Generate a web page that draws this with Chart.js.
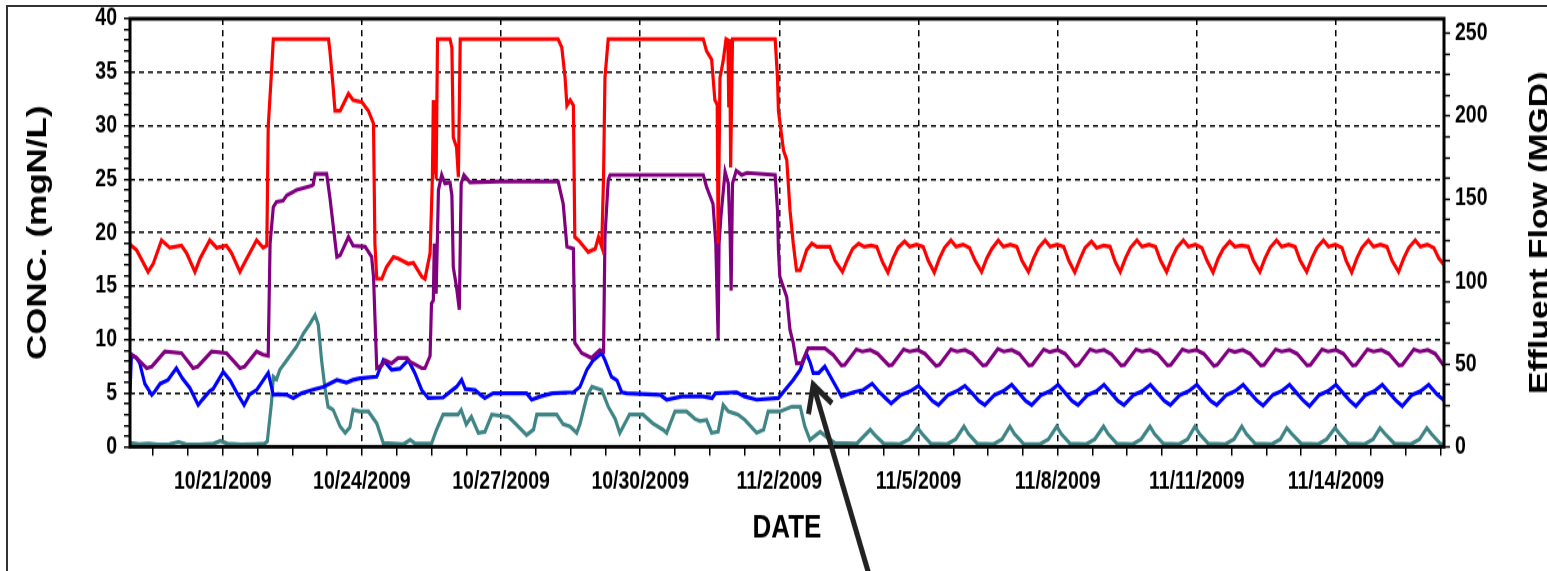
<!DOCTYPE html>
<html>
<head>
<meta charset="utf-8">
<script src="https://cdn.jsdelivr.net/npm/chart.js@4.4.1/dist/chart.umd.min.js"></script>
<style>
  html, body { margin: 0; padding: 0; background: #fff; overflow: hidden; width: 1547px; height: 571px; }
  #frame { position: absolute; left: 6px; top: 5px; width: 1600px; height: 600px; border-left: 2px solid #333; border-top: 2px solid #333; }
  /* the source picture is stretched vertically, so draw at 1/1.25 height and scale up */
  #wrap { position: absolute; left: 0; top: 0; transform: scaleY(1.25); transform-origin: 0 0; }
</style>
</head>
<body>
<div id="frame"></div>
<div id="wrap"><canvas id="chart" width="1580" height="457"></canvas></div>
<script>
// x = days since 10/19/2009 00:00, y = mgN/L on the left axis
const red = [
  [0, 18.9], [0.14, 18.4], [0.39, 16.35], [0.50, 17.1], [0.68, 19.3], [0.86, 18.6], [1.11, 18.8], [1.22, 18.1],
  [1.40, 16.35], [1.51, 17.6], [1.72, 19.3], [1.87, 18.6], [2.08, 18.8], [2.19, 18.1], [2.37, 16.35], [2.52, 17.6],
  [2.73, 19.3], [2.87, 18.6], [2.95, 18.8], [2.98, 29.9], [3.05, 35.0], [3.09, 38.1], [4.28, 38.1], [4.31, 37.0],
  [4.38, 33.6], [4.42, 31.4], [4.53, 31.4], [4.71, 33.0], [4.81, 32.4], [5.00, 32.2], [5.14, 31.4], [5.25, 30.2],
  [5.28, 19.0], [5.32, 15.7], [5.43, 15.7], [5.53, 16.8], [5.68, 17.75], [5.78, 17.6], [6.00, 17.1], [6.11, 17.2],
  [6.29, 15.9], [6.36, 15.7], [6.47, 18.1], [6.52, 25.2], [6.54, 32.4], [6.56, 25.5], [6.58, 32.4], [6.60, 25.0],
  [6.63, 38.1], [6.90, 38.1], [6.94, 37.3], [6.97, 28.9], [7.04, 28.0], [7.08, 25.2], [7.12, 38.1], [9.23, 38.1],
  [9.31, 37.3], [9.38, 34.5], [9.42, 31.9], [9.49, 32.4], [9.56, 31.9], [9.59, 19.6], [9.67, 19.3], [9.88, 18.2],
  [10.03, 18.5], [10.10, 19.6], [10.17, 18.7], [10.21, 25.2], [10.24, 34.5], [10.31, 38.1], [12.36, 38.1], [12.43, 37.0],
  [12.54, 36.2], [12.61, 32.4], [12.66, 32.0], [12.68, 19.0], [12.72, 34.5], [12.79, 36.1], [12.85, 38.1], [12.89, 38.0],
  [12.91, 31.7], [12.93, 38.1], [12.95, 26.1], [12.99, 38.1], [13.91, 38.1], [13.96, 34.5], [13.98, 31.4], [14.09, 27.7],
  [14.16, 26.8], [14.23, 22.1], [14.30, 19.0], [14.37, 16.5], [14.45, 16.5], [14.59, 18.4], [14.70, 19.0], [14.81, 18.7],
  [15.09, 18.7], [15.20, 17.4],
  [15.36, 16.35], [15.47, 17.5], [15.58, 18.5], [15.71, 19.0], [15.83, 18.7], [15.98, 18.8], [16.10, 18.7], [16.22, 17.3],
  [16.34, 16.3], [16.45, 17.6], [16.56, 18.6], [16.70, 19.2], [16.81, 18.7], [16.96, 18.9], [17.10, 18.7], [17.21, 17.4],
  [17.34, 16.3], [17.45, 17.6], [17.56, 18.6], [17.70, 19.3], [17.81, 18.7], [17.96, 18.9], [18.10, 18.6], [18.22, 17.4],
  [18.36, 16.35], [18.47, 17.6], [18.58, 18.5], [18.72, 19.3], [18.83, 18.7], [18.98, 18.9], [19.12, 18.7], [19.23, 17.4],
  [19.37, 16.35], [19.48, 17.6], [19.59, 18.6], [19.73, 19.3], [19.84, 18.7], [19.99, 18.9], [20.13, 18.7], [20.24, 17.4],
  [20.37, 16.3], [20.48, 17.5], [20.59, 18.6], [20.73, 19.2], [20.84, 18.6], [20.99, 18.8], [21.13, 18.7], [21.24, 17.3],
  [21.35, 16.35], [21.46, 17.6], [21.57, 18.6], [21.71, 19.3], [21.82, 18.7], [21.97, 18.9], [22.11, 18.7], [22.22, 17.4],
  [22.35, 16.35], [22.46, 17.6], [22.57, 18.6], [22.71, 19.3], [22.82, 18.7], [22.97, 18.9], [23.11, 18.6], [23.22, 17.4],
  [23.35, 16.3], [23.46, 17.6], [23.57, 18.5], [23.71, 19.2], [23.82, 18.7], [23.97, 18.8], [24.11, 18.7], [24.22, 17.4],
  [24.36, 16.35], [24.47, 17.6], [24.58, 18.6], [24.72, 19.3], [24.83, 18.7], [24.98, 18.9], [25.12, 18.7], [25.23, 17.4],
  [25.37, 16.35], [25.48, 17.6], [25.59, 18.6], [25.73, 19.3], [25.84, 18.7], [25.99, 18.9], [26.13, 18.6], [26.22, 17.4],
  [26.34, 16.3], [26.45, 17.6], [26.56, 18.6], [26.70, 19.3], [26.81, 18.7], [26.96, 18.9], [27.10, 18.7], [27.21, 17.4],
  [27.35, 16.35], [27.46, 17.6], [27.57, 18.6], [27.71, 19.3], [27.82, 18.7], [27.97, 18.9], [28.11, 18.6], [28.22, 17.6],
  [28.33, 17.0]
];

const purple = [
  [0, 8.6], [0.04, 8.6], [0.14, 8.3], [0.36, 7.35], [0.47, 7.5], [0.75, 8.9], [1.11, 8.75], [1.36, 7.35],
  [1.46, 7.5], [1.76, 8.9], [2.08, 8.75], [2.37, 7.35], [2.47, 7.5], [2.73, 8.9], [2.87, 8.6], [2.98, 8.5],
  [3.02, 19.0], [3.09, 22.4], [3.16, 22.9], [3.30, 23.0], [3.38, 23.5], [3.59, 24.0], [3.92, 24.4], [3.95, 24.5],
  [3.99, 25.5], [4.24, 25.5], [4.31, 23.3], [4.46, 17.75], [4.53, 17.9], [4.71, 19.6], [4.81, 18.8], [5.07, 18.7],
  [5.21, 17.75], [5.25, 15.9], [5.32, 7.35], [5.43, 7.6], [5.50, 8.1], [5.64, 7.8], [5.78, 8.3], [5.97, 8.3],
  [6.04, 7.95], [6.29, 7.35], [6.36, 7.35], [6.47, 8.5], [6.50, 13.4], [6.54, 13.7], [6.56, 19.0], [6.60, 14.3],
  [6.63, 20.0], [6.65, 24.0], [6.72, 25.4], [6.79, 24.6], [6.90, 24.7], [6.94, 23.5], [6.97, 16.8], [7.04, 14.9],
  [7.10, 12.8], [7.14, 24.6], [7.20, 25.4], [7.33, 24.7], [7.98, 24.8], [9.23, 24.8], [9.34, 22.7], [9.42, 18.7],
  [9.56, 18.5], [9.59, 9.7], [9.74, 8.75], [9.95, 8.3], [10.13, 9.05], [10.21, 8.9], [10.24, 19.6], [10.31, 24.9],
  [10.35, 25.4], [12.36, 25.4], [12.43, 24.3], [12.57, 22.7], [12.63, 19.0], [12.68, 10.1], [12.70, 19.0], [12.74, 21.5],
  [12.83, 25.7], [12.90, 24.6], [12.94, 19.6], [12.96, 14.6], [12.99, 24.6], [13.07, 25.8], [13.19, 25.4], [13.30, 25.6],
  [13.91, 25.4], [13.96, 22.1], [13.98, 18.5], [14.01, 15.9], [14.16, 14.0], [14.23, 10.9], [14.30, 9.7], [14.37, 7.8],
  [14.48, 7.8], [14.62, 9.2], [14.98, 9.2], [15.16, 8.6],
  [15.34, 7.6], [15.41, 7.65], [15.66, 9.1], [15.79, 8.9], [15.96, 9.05], [16.12, 8.7],
  [16.36, 7.6], [16.43, 7.65], [16.68, 9.1], [16.81, 8.9], [16.98, 9.05], [17.14, 8.7],
  [17.38, 7.55], [17.45, 7.65], [17.70, 9.1], [17.83, 8.9], [18.00, 9.05], [18.16, 8.7],
  [18.39, 7.6], [18.46, 7.65], [18.71, 9.15], [18.84, 8.9], [19.01, 9.05], [19.17, 8.7],
  [19.38, 7.6], [19.45, 7.65], [19.70, 9.1], [19.83, 8.85], [20.00, 9.05], [20.16, 8.7],
  [20.38, 7.55], [20.45, 7.65], [20.70, 9.1], [20.83, 8.9], [21.00, 9.05], [21.16, 8.65],
  [21.37, 7.6], [21.44, 7.65], [21.69, 9.1], [21.82, 8.9], [21.99, 9.05], [22.15, 8.7],
  [22.37, 7.6], [22.44, 7.65], [22.69, 9.1], [22.82, 8.9], [22.99, 9.05], [23.15, 8.7],
  [23.37, 7.55], [23.44, 7.65], [23.69, 9.05], [23.82, 8.85], [23.99, 9.05], [24.15, 8.7],
  [24.38, 7.6], [24.45, 7.65], [24.70, 9.1], [24.83, 8.9], [25.00, 9.05], [25.16, 8.7],
  [25.38, 7.6], [25.45, 7.65], [25.70, 9.1], [25.83, 8.9], [26.00, 9.05], [26.16, 8.7],
  [26.36, 7.6], [26.43, 7.65], [26.68, 9.1], [26.81, 8.9], [26.98, 9.05], [27.14, 8.7],
  [27.36, 7.6], [27.43, 7.65], [27.68, 9.1], [27.81, 8.9], [27.98, 9.05], [28.14, 8.7],
  [28.33, 7.55]
];

const blue = [
  [0, 5.0], [0.03, 8.6], [0.14, 8.3], [0.21, 7.8], [0.32, 5.9], [0.47, 4.85], [0.54, 5.2], [0.65, 5.9],
  [0.82, 6.25], [1.00, 7.35], [1.13, 6.4], [1.29, 5.5], [1.47, 3.9], [1.56, 4.4], [1.72, 5.2], [1.79, 5.4],
  [2.01, 7.0], [2.16, 6.2], [2.31, 5.0], [2.46, 3.9], [2.58, 4.9], [2.73, 5.3], [2.98, 6.9], [3.09, 4.85],
  [3.19, 4.9], [3.38, 4.85], [3.52, 4.55], [3.70, 5.0], [3.92, 5.3], [4.17, 5.6], [4.46, 6.25], [4.67, 6.0],
  [4.81, 6.25], [4.96, 6.4], [5.32, 6.55], [5.46, 8.1], [5.64, 7.2], [5.82, 7.3], [6.00, 8.1], [6.14, 6.9],
  [6.29, 5.3], [6.43, 4.55], [6.75, 4.6], [6.86, 5.0], [7.04, 5.6], [7.15, 6.25], [7.23, 5.4], [7.44, 5.3],
  [7.56, 4.85], [7.65, 4.55], [7.83, 5.0], [8.55, 5.0], [8.66, 4.4], [8.85, 4.7], [9.10, 5.0], [9.56, 5.1],
  [9.70, 5.6], [9.85, 7.2], [9.99, 8.1], [10.17, 8.75], [10.24, 8.1], [10.38, 6.55], [10.50, 6.2], [10.60, 5.1],
  [10.71, 5.0], [11.43, 4.85], [11.57, 4.4], [11.90, 4.7], [12.35, 4.7], [12.55, 4.55], [12.62, 5.0], [13.08, 5.1],
  [13.25, 4.7], [13.51, 4.4], [13.98, 4.55], [14.30, 6.25], [14.45, 7.2], [14.58, 8.75], [14.67, 7.8], [14.73, 6.9],
  [14.85, 6.9], [14.98, 7.5], [15.16, 6.1], [15.34, 4.7], [15.60, 5.1], [15.80, 5.3],
  [16.00, 5.9], [16.18, 5.0], [16.30, 4.5], [16.41, 4.05], [16.62, 4.85], [16.83, 5.2],
  [17.00, 5.7], [17.18, 4.9], [17.30, 4.3], [17.43, 3.9], [17.64, 4.85], [17.83, 5.2],
  [18.00, 5.7], [18.18, 4.9], [18.30, 4.3], [18.43, 3.9], [18.64, 4.85], [18.83, 5.2],
  [19.01, 5.8], [19.19, 4.9], [19.31, 4.3], [19.44, 3.9], [19.65, 4.85], [19.84, 5.2],
  [20.01, 5.8], [20.19, 4.9], [20.31, 4.3], [20.44, 3.9], [20.65, 4.85], [20.84, 5.2],
  [21.00, 5.8], [21.18, 4.9], [21.30, 4.3], [21.43, 3.9], [21.64, 4.85], [21.83, 5.2],
  [22.00, 5.8], [22.18, 4.9], [22.30, 4.3], [22.43, 3.9], [22.64, 4.85], [22.83, 5.2],
  [23.00, 5.8], [23.18, 4.9], [23.30, 4.3], [23.43, 3.9], [23.64, 4.85], [23.83, 5.2],
  [24.00, 5.8], [24.18, 4.9], [24.30, 4.3], [24.43, 3.85], [24.64, 4.85], [24.83, 5.2],
  [25.00, 5.8], [25.18, 4.9], [25.30, 4.3], [25.43, 3.8], [25.64, 4.85], [25.83, 5.2],
  [26.00, 5.8], [26.18, 4.9], [26.30, 4.3], [26.43, 3.8], [26.64, 4.85], [26.83, 5.2],
  [27.00, 5.8], [27.18, 4.9], [27.30, 4.3], [27.43, 3.8], [27.64, 4.85], [27.83, 5.2],
  [28.00, 5.8], [28.18, 4.9], [28.33, 4.35]
];

const teal = [
  [0, 0.35], [0.2, 0.25], [0.4, 0.3], [0.6, 0.2], [0.85, 0.25], [1.05, 0.45], [1.2, 0.25], [1.5, 0.2],
  [1.8, 0.3], [1.95, 0.55], [2.1, 0.3], [2.4, 0.2], [2.7, 0.25], [2.9, 0.3], [2.96, 0.5], [3.05, 4.1],
  [3.09, 6.55], [3.16, 6.3], [3.23, 7.2], [3.38, 8.1], [3.59, 9.35], [3.74, 10.6], [3.88, 11.5], [3.99, 12.3],
  [4.06, 11.4], [4.13, 8.1], [4.20, 5.6], [4.27, 3.75], [4.38, 3.45], [4.53, 1.9], [4.64, 1.3], [4.74, 1.8],
  [4.81, 3.45], [4.95, 3.3], [5.14, 3.3], [5.32, 2.2], [5.46, 0.35], [5.9, 0.25], [6.04, 0.65], [6.15, 0.3],
  [6.50, 0.3], [6.61, 1.6], [6.75, 3.0], [7.07, 3.0], [7.14, 3.45], [7.25, 2.1], [7.36, 2.8], [7.51, 1.3],
  [7.65, 1.4], [7.80, 3.0], [8.16, 2.8], [8.30, 2.2], [8.55, 1.1], [8.70, 1.6], [8.77, 3.0], [9.20, 3.0],
  [9.34, 2.1], [9.49, 1.9], [9.63, 1.3], [9.70, 2.1], [9.85, 4.7], [9.96, 5.6], [10.17, 5.3], [10.31, 3.75],
  [10.46, 2.6], [10.56, 1.3], [10.77, 3.0], [11.06, 3.0], [11.27, 2.2], [11.49, 1.6], [11.57, 1.3], [11.75, 3.3],
  [12.00, 3.3], [12.18, 2.6], [12.29, 2.4], [12.43, 2.5], [12.54, 1.3], [12.68, 1.4], [12.79, 3.9], [12.90, 3.3],
  [13.11, 3.0], [13.26, 2.5], [13.51, 1.3], [13.66, 1.6], [13.76, 3.3], [14.01, 3.3], [14.27, 3.75], [14.45, 3.75],
  [14.55, 1.9], [14.66, 0.65], [14.88, 1.4], [15.02, 0.9], [15.20, 0.35], [15.67, 0.3],
  [15.96, 1.6], [16.08, 1.0], [16.25, 0.3], [16.60, 0.25], [16.80, 0.7],
  [16.98, 1.75], [17.08, 1.2], [17.27, 0.3], [17.62, 0.25], [17.80, 0.7],
  [17.98, 1.9], [18.08, 1.2], [18.27, 0.3], [18.62, 0.25], [18.80, 0.7],
  [18.97, 1.9], [19.07, 1.2], [19.27, 0.25], [19.62, 0.25], [19.80, 0.7],
  [19.98, 1.9], [20.08, 1.2], [20.27, 0.3], [20.62, 0.25], [20.80, 0.7],
  [20.99, 1.9], [21.09, 1.2], [21.28, 0.3], [21.62, 0.25], [21.80, 0.7],
  [21.99, 1.9], [22.09, 1.2], [22.28, 0.3], [22.62, 0.25], [22.80, 0.7],
  [22.96, 1.9], [23.06, 1.2], [23.25, 0.3], [23.62, 0.25], [23.80, 0.7],
  [23.97, 1.9], [24.07, 1.2], [24.26, 0.3], [24.62, 0.25], [24.80, 0.7],
  [24.94, 1.75], [25.05, 1.2], [25.25, 0.3], [25.62, 0.25], [25.80, 0.7],
  [25.98, 1.75], [26.08, 1.2], [26.27, 0.3], [26.62, 0.25], [26.80, 0.7],
  [26.95, 1.75], [27.06, 1.2], [27.26, 0.3], [27.62, 0.25], [27.80, 0.7],
  [27.96, 1.75], [28.06, 1.2], [28.25, 0.3], [28.33, 0.2]
];

// tick labels
const labelDays = [2, 5, 8, 11, 14, 17, 20, 23, 26];
const dateLabels = ['10/21/2009', '10/24/2009', '10/27/2009', '10/30/2009', '11/2/2009',
  '11/5/2009', '11/8/2009', '11/11/2009', '11/14/2009'];
const flowLabels = [0, 50, 100, 150, 200, 250];

// arrow annotation, in data units (days, mgN/L)
const arrowTip = [14.73, 5.8];
const arrowTail = [15.95, -12.2];

const FONT = "'Liberation Sans', Arial, sans-serif";
const X_MAX = 28.33;
const FLOW_MAX = 259;

function series(label, pts, color) {
  return {
    label: label,
    data: pts.map(p => ({ x: p[0], y: p[1] })),
    borderColor: color,
    backgroundColor: color,
    borderWidth: 3.2,
    pointRadius: 0,
    tension: 0,
    fill: false,
    yAxisID: 'y'
  };
}

const tickFont = { family: FONT, size: 19.5, weight: 'bold' };

// thick box round the plot area
const framePlugin = {
  id: 'frame',
  afterDatasetsDraw(chart) {
    const { ctx, chartArea: a } = chart;
    ctx.save();
    ctx.strokeStyle = '#000';
    ctx.lineWidth = 3;
    ctx.strokeRect(a.left, a.top, a.right - a.left, a.bottom - a.top);
    ctx.restore();
  }
};

// right axis title reads bottom to top, which chart.js won't do on a right axis
const flowTitle = {
  id: 'flowTitle',
  afterDraw(chart) {
    const { ctx, chartArea: a } = chart;
    ctx.save();
    ctx.translate(a.right + 97, (a.top + a.bottom) / 2);
    ctx.rotate(-Math.PI / 2);
    ctx.font = 'bold 27px ' + FONT;
    ctx.fillStyle = '#000';
    ctx.textAlign = 'center';
    ctx.textBaseline = 'middle';
    ctx.fillText('Effluent Flow (MGD)', 0, 0);
    ctx.restore();
  }
};

const arrowPlugin = {
  id: 'arrow',
  afterDraw(chart) {
    const { ctx, scales } = chart;
    const tx = scales.x.getPixelForValue(arrowTip[0]);
    const ty = scales.y.getPixelForValue(arrowTip[1]);
    const ex = scales.x.getPixelForValue(arrowTail[0]);
    const ey = scales.y.getPixelForValue(arrowTail[1]);
    const ang = Math.atan2(ey - ty, ex - tx);
    const len = 24;
    ctx.save();
    ctx.strokeStyle = '#222';
    ctx.lineWidth = 5;
    ctx.beginPath();
    ctx.moveTo(ex, ey);
    ctx.lineTo(tx, ty);
    ctx.stroke();
    ctx.beginPath();
    ctx.moveTo(tx + len * Math.cos(ang - 0.55), ty + len * Math.sin(ang - 0.55));
    ctx.lineTo(tx, ty);
    ctx.lineTo(tx + len * Math.cos(ang + 0.55), ty + len * Math.sin(ang + 0.55));
    ctx.stroke();
    ctx.restore();
  }
};

// y axes: fixed width, and no label overhang padding so the plot top sits where the reference has it
function fixY(width) {
  return axis => {
    axis.width = width;
    axis.paddingTop = 0;
    axis.paddingBottom = 0;
  };
}

new Chart(document.getElementById('chart'), {
  type: 'line',
  data: {
    datasets: [
      series('Red', red, '#ff0000'),
      series('Purple', purple, '#800080'),
      series('Blue', blue, '#0000ff'),
      series('Teal', teal, '#3f8585')
    ]
  },
  options: {
    responsive: false,
    animation: false,
    devicePixelRatio: 1,
    layout: { autoPadding: false, padding: { top: 15, left: 0, right: 0, bottom: 0 } },
    plugins: {
      legend: { display: false },
      tooltip: { enabled: false }
    },
    scales: {
      x: {
        type: 'linear',
        min: 0,
        max: X_MAX,
        afterBuildTicks(axis) {
          // minor ticks every 18 hours, lined up with the labelled days
          const t = [];
          for (let v = 0.5; v <= X_MAX; v += 0.75) t.push({ value: v });
          axis.ticks = t;
        },
        afterFit(axis) { axis.height = 99.6; },
        border: { display: false, dash: [5, 4] },
        grid: {
          color: c => labelDays.includes(c.tick.value) ? '#000' : 'rgba(0,0,0,0)',
          lineWidth: 1.5,
          tickColor: '#000',
          tickWidth: 1.5,
          tickLength: 7,
          tickBorderDash: []
        },
        ticks: {
          autoSkip: false,
          maxRotation: 0,
          padding: 10,
          color: '#000',
          font: tickFont,
          callback: v => {
            const i = labelDays.indexOf(v);
            return i >= 0 ? dateLabels[i] : '';
          }
        },
        title: {
          display: true,
          text: 'DATE',
          color: '#000',
          font: { family: FONT, size: 26, weight: 'bold' },
          padding: { top: 0, bottom: 19 }
        }
      },
      y: {
        position: 'left',
        min: 0,
        max: 40,
        afterFit: fixY(130),
        border: { display: false, dash: [5, 4] },
        grid: {
          color: c => (c.tick.value % 5 === 0 && c.tick.value > 0 && c.tick.value < 40) ? '#000' : 'rgba(0,0,0,0)',
          lineWidth: 1.5,
          tickColor: '#000',
          tickWidth: 1.5,
          tickLength: 6,
          tickBorderDash: []
        },
        ticks: {
          stepSize: 1,
          maxTicksLimit: 1000,
          autoSkip: false,
          padding: 7,
          color: '#000',
          font: tickFont,
          callback: v => v % 5 === 0 ? String(v) : ''
        },
        title: {
          display: true,
          text: 'CONC. (mgN/L)',
          color: '#000',
          font: { family: FONT, size: 28, weight: 'bold' },
          padding: { top: 21, bottom: 0 }
        }
      },
      y2: {
        position: 'right',
        min: 0,
        max: FLOW_MAX,
        afterFit: fixY(136),
        border: { display: false },
        grid: {
          drawOnChartArea: false,
          tickColor: '#000',
          tickWidth: 1.5,
          tickLength: 6
        },
        ticks: {
          stepSize: 12.5,
          maxTicksLimit: 1000,
          includeBounds: false,
          autoSkip: false,
          padding: 5,
          color: '#000',
          font: tickFont,
          callback: v => flowLabels.includes(v) ? String(v) : ''
        }
      }
    }
  },
  plugins: [framePlugin, flowTitle, arrowPlugin]
});
</script>
</body>
</html>
